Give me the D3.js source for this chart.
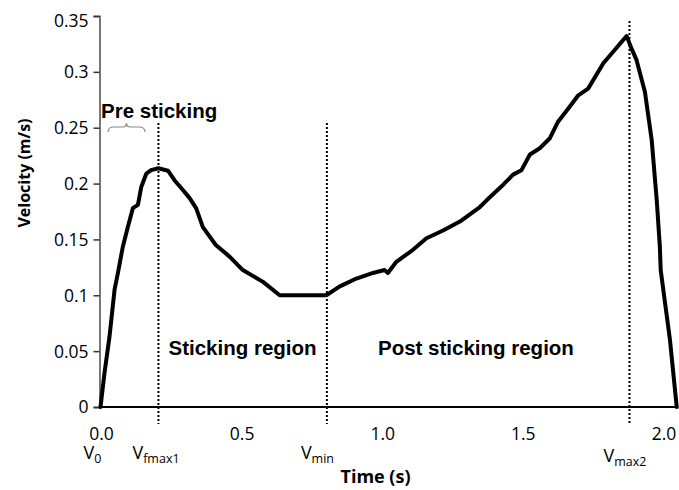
<!DOCTYPE html>
<html><head><meta charset="utf-8">
<script src="https://cdn.jsdelivr.net/npm/d3@7"></script>
<style>body{margin:0;background:#fff}svg{display:block}</style>
</head><body><svg id="c" width="679" height="490"></svg>
<script>
const time = [0,0.014,0.032,0.05,0.062,0.079,0.097,0.115,0.133,0.145,0.163,0.18,0.206,0.24,0.263,0.287,0.317,0.34,0.364,0.41,0.459,0.506,0.578,0.637,0.803,0.851,0.91,0.969,1.01,1.022,1.052,1.11,1.159,1.218,1.278,1.349,1.373,1.432,1.467,1.497,1.527,1.562,1.598,1.627,1.669,1.699,1.734,1.788,1.823,1.859,1.871,1.888,1.906,1.936,1.96,1.978,1.989,1.992,2.025,2.049];
const velocity = [0,0.030,0.063,0.105,0.12,0.143,0.161,0.178,0.181,0.197,0.209,0.212,0.2137,0.2115,0.203,0.196,0.187,0.178,0.161,0.145,0.1346,0.1226,0.112,0.1,0.1,0.108,0.115,0.120,0.1226,0.120,0.130,0.1405,0.151,0.158,0.166,0.179,0.185,0.199,0.208,0.212,0.226,0.2316,0.2406,0.2554,0.269,0.279,0.285,0.3077,0.318,0.3286,0.332,0.321,0.3107,0.282,0.239,0.185,0.1435,0.1226,0.06,0];
const yTicks = [0,0.05,0.1,0.15,0.2,0.25,0.3,0.35];
const xTickLabels = ["0.0","0.5","1.0","1.5","2.0"];
const xTickValues = [0,0.5,1.0,1.5,2.0];
const markerNames = ["fmax1","min","max2"];
const markerTimes = [0.206,0.805,1.881];
const regionNames = ["Sticking region","Post sticking region"];
const regionCenters = [0.505,1.335];

const svg = d3.select("#c");
const x = d3.scaleLinear().domain([0,2.05]).range([100.5,677]);
const y = d3.scaleLinear().domain([0,0.35]).range([407,16]);
const tickFont = "'Open Sans', Lato, sans-serif";

// y axis
const yAxis = d3.axisLeft(y).tickValues(yTicks).tickSize(6).tickPadding(5)
  .tickFormat(d => d===0 ? "0" : d3.format("")(+d.toFixed(2)));
const gy = svg.append("g").attr("transform",`translate(${x(0)-1},0)`).call(yAxis);
gy.select(".domain").attr("stroke","#777").attr("stroke-width",2);
gy.selectAll(".tick line").attr("stroke","#333").attr("stroke-width",1.5);
gy.selectAll(".tick text").attr("font-family",tickFont).attr("font-size",17.5).attr("fill","#000")
  .attr("dy", d => d===0.35 ? "0.62em" : "0.34em");

// x axis line
svg.append("line").attr("x1",x(0)-1).attr("x2",x(2.05)).attr("y1",y(0)).attr("y2",y(0))
  .attr("stroke","#000").attr("stroke-width",2);
svg.selectAll("text.xt").data(xTickValues).join("text").attr("class","xt")
  .attr("x",d=>x(d)+1).attr("y",440).attr("text-anchor","middle")
  .attr("font-family",tickFont).attr("font-size",17.5)
  .text((d,i)=>xTickLabels[i]);

// dotted marker lines
svg.selectAll("line.mk").data(markerTimes).join("line").attr("class","mk")
  .attr("x1",d=>x(d)).attr("x2",d=>x(d))
  .attr("y1",(d,i)=> i===2 ? 21 : 123).attr("y2",424)
  .attr("stroke","#000").attr("stroke-width",2).attr("stroke-dasharray","2,2");

// curve
const line = d3.line().x((d,i)=>x(time[i])).y(d=>y(d));
svg.append("path").datum(velocity).attr("d",line).attr("fill","none")
  .attr("stroke","#000").attr("stroke-width",4).attr("stroke-linejoin","round").attr("stroke-linecap","round");

// V labels
function vLabel(px, py, sub){
  const t = svg.append("text").attr("x",px).attr("y",py).attr("font-family",tickFont).attr("font-size",18);
  t.append("tspan").text("V");
  t.append("tspan").attr("font-size",12.5).attr("dy",4).text(sub);
}
vLabel(x(0)-17, 459, "0");
markerTimes.forEach((t,i)=> vLabel(x(t)-26, i===2 ? 462 : 459, markerNames[i]));

// region labels
const boldFont = "'Liberation Sans', Arial, sans-serif";
svg.selectAll("text.rg").data(regionNames).join("text").attr("class","rg")
  .attr("x",(d,i)=>x(regionCenters[i])).attr("y",355).attr("text-anchor","middle")
  .attr("font-family",boldFont).attr("font-weight","bold").attr("font-size",20.5).text(d=>d);
svg.append("text").attr("x",101).attr("y",118).attr("font-family",boldFont)
  .attr("font-weight","bold").attr("font-size",20.5).text("Pre sticking");

// brace
const bx0 = 108, bx1 = 145, bm = (bx0+bx1)/2, by = 132;
svg.append("path").attr("d",
  `M${bx0},${by} Q${bx0},${by-5} ${bx0+6},${by-5} L${bm-4},${by-5} Q${bm},${by-5} ${bm},${by-9} Q${bm},${by-5} ${bm+4},${by-5} L${bx1-6},${by-5} Q${bx1},${by-5} ${bx1},${by}`)
  .attr("fill","none").attr("stroke","#888").attr("stroke-width",1.2);

// axis titles
svg.append("text").attr("transform","translate(30,173) rotate(-90)").attr("text-anchor","middle")
  .attr("font-family",tickFont).attr("font-weight","bold").attr("font-size",16).text("Velocity (m/s)");
svg.append("text").attr("x",375.5).attr("y",483).attr("text-anchor","middle")
  .attr("font-family",tickFont).attr("font-weight","bold").attr("font-size",18).text("Time (s)");
</script></body></html>
